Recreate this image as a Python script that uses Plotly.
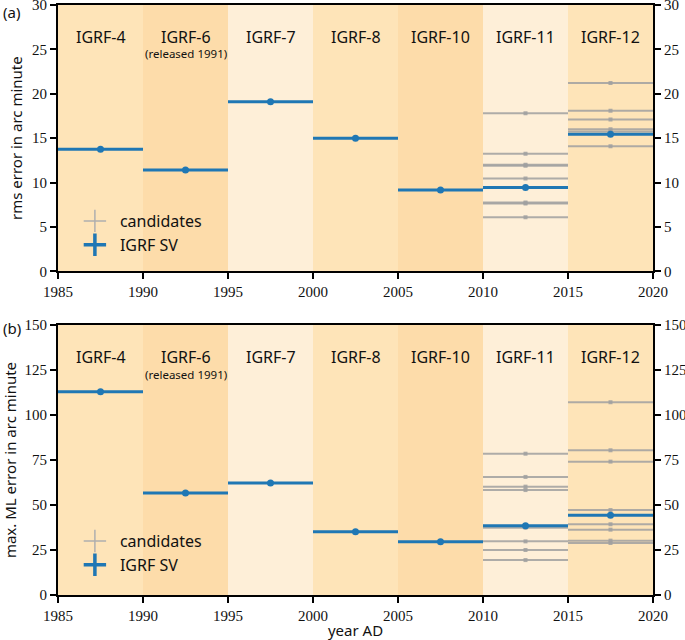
import plotly.graph_objects as go

# ---------------- data ----------------
models = ["IGRF-4", "IGRF-6", "IGRF-7", "IGRF-8", "IGRF-10", "IGRF-11", "IGRF-12"]
epoch_start = [1985, 1990, 1995, 2000, 2005, 2010, 2015]
epoch_end = [1990, 1995, 2000, 2005, 2010, 2015, 2020]
band_shade = ["#fee4b8", "#fddcaa", "#feefd8", "#fee4b8", "#fddcaa", "#feefd8", "#fee4b8"]

rms_igrf = [13.75, 11.4, 19.1, 15.0, 9.15, 9.45, 15.45]
rms_cand_2010 = [17.8, 13.25, 11.9, 12.0, 10.45, 7.65, 7.75, 6.1]
rms_cand_2015 = [21.2, 18.1, 17.1, 16.0, 15.75, 14.1]

ml_igrf = [112.9, 56.7, 62.2, 35.2, 29.6, 38.5, 44.3]
ml_cand_2010 = [78.5, 65.6, 60.2, 58.3, 37.4, 29.8, 25.0, 19.4]
ml_cand_2015 = [107.1, 80.4, 74.1, 47.2, 39.3, 36.3, 30.2, 28.9]

x_ticks = [1985, 1990, 1995, 2000, 2005, 2010, 2015, 2020]
rms_ticks = [0, 5, 10, 15, 20, 25, 30]
ml_ticks = [0, 25, 50, 75, 100, 125, 150]

BLUE = "#1f77b4"
GREY = "rgba(160,160,160,0.85)"
SANS = "Noto Sans"
SERIF = "Liberation Serif, DejaVu Serif, serif"

mid = [(a + b) / 2 for a, b in zip(epoch_start, epoch_end)]
half = [(b - a) / 2 for a, b in zip(epoch_start, epoch_end)]

fig = go.Figure()

panels = [
    dict(x="x", y="y", igrf=rms_igrf, c10=rms_cand_2010, c15=rms_cand_2015, legend="legend"),
    dict(x="x2", y="y2", igrf=ml_igrf, c10=ml_cand_2010, c15=ml_cand_2015, legend="legend2"),
]

for p in panels:
    for idx, cands in ((5, p["c10"]), (6, p["c15"])):
        fig.add_trace(go.Scatter(
            x=[mid[idx]] * len(cands), y=cands, mode="markers",
            xaxis=p["x"], yaxis=p["y"], showlegend=False,
            marker=dict(symbol="square", size=4, color=GREY),
            error_x=dict(type="constant", value=half[idx], width=0, thickness=2, color=GREY),
            hoverinfo="skip"))
    fig.add_trace(go.Scatter(
        x=mid, y=p["igrf"], mode="markers", xaxis=p["x"], yaxis=p["y"], showlegend=False,
        marker=dict(symbol="circle", size=7, color=BLUE),
        error_x=dict(type="data", array=half, width=0, thickness=3, color=BLUE)))
    # legend entries
    fig.add_trace(go.Scatter(
        x=[None], y=[None], mode="markers", name="candidates", legend=p["legend"],
        xaxis=p["x"], yaxis=p["y"],
        marker=dict(symbol="cross-thin", size=18, line=dict(width=1.5, color="rgb(175,175,175)"))))
    fig.add_trace(go.Scatter(
        x=[None], y=[None], mode="markers", name="IGRF SV", legend=p["legend"],
        xaxis=p["x"], yaxis=p["y"],
        marker=dict(symbol="cross-thin", size=18, line=dict(width=3.5, color=BLUE))))

shapes = []
annotations = []
for ax_x, ax_y in (("x", "y"), ("x2", "y2")):
    for s, e, c in zip(epoch_start, epoch_end, band_shade):
        shapes.append(dict(type="rect", xref=ax_x, yref=ax_y + " domain", x0=s, x1=e, y0=0, y1=1,
                           fillcolor=c, line=dict(width=0), layer="below"))
    for m, name in zip(mid, models):
        annotations.append(dict(xref=ax_x, yref=ax_y + " domain", x=m, y=0.928, text=name,
                                showarrow=False, font=dict(family=SANS, size=16, color="#111")))
    annotations.append(dict(xref=ax_x, yref=ax_y + " domain", x=mid[1], y=0.853, text="(released 1991)",
                            showarrow=False, font=dict(family=SANS, size=11.5, color="#111")))

annotations.append(dict(xref="paper", yref="paper", x=-0.096, y=1.0, yshift=5, text="(a)", showarrow=False,
                        xanchor="left", yanchor="top", font=dict(family=SANS, size=15, color="#111")))
annotations.append(dict(xref="paper", yref="paper", x=-0.096, y=0.4576, yshift=-3, text="(b)", showarrow=False,
                        xanchor="left", yanchor="middle", font=dict(family=SANS, size=15, color="#111")))

axis_common = dict(showline=True, linecolor="black", linewidth=2, ticks="outside", ticklen=6,
                   tickwidth=2, tickcolor="black", showgrid=False, zeroline=False, automargin=False,
                   ticklabeloverflow="allow",
                   tickfont=dict(family=SERIF, size=15, color="#111"))
title_font = dict(family=SANS, size=15, color="#111")

fig.update_layout(
    width=685, height=640,
    margin=dict(l=58, r=32, t=5, b=45, autoexpand=False),
    plot_bgcolor="white", paper_bgcolor="white",
    shapes=shapes, annotations=annotations,
    xaxis=dict(domain=[0, 1], anchor="y", range=[1985, 2020], tickvals=x_ticks, mirror=True, **axis_common),
    yaxis=dict(domain=[0.5486, 1], anchor="x", range=[0, 30], tickvals=rms_ticks, mirror=True,
               title=dict(text="rms error in arc minute", font=title_font, standoff=6),
               **axis_common),
    yaxis3=dict(overlaying="y", side="right", anchor="x", range=[0, 30], tickvals=rms_ticks, **axis_common),
    xaxis2=dict(domain=[0, 1], anchor="y2", range=[1985, 2020], tickvals=x_ticks, mirror=True,
                title=dict(text="year AD", font=title_font, standoff=4),
                **axis_common),
    yaxis2=dict(domain=[0, 0.4576], anchor="x2", range=[0, 150], tickvals=ml_ticks, mirror=True,
                title=dict(text="max. ML error in arc minute", font=title_font, standoff=6),
                **axis_common),
    yaxis4=dict(overlaying="y2", side="right", anchor="x2", range=[0, 150], tickvals=ml_ticks, **axis_common),
    legend=dict(x=0.02, y=0.6136, xanchor="left", yanchor="middle", bgcolor="rgba(0,0,0,0)",
                font=dict(family=SANS, size=16, color="#111"), itemwidth=40, tracegroupgap=0),
    legend2=dict(x=0.02, y=0.071, xanchor="left", yanchor="middle", bgcolor="rgba(0,0,0,0)",
                 font=dict(family=SANS, size=16, color="#111"), itemwidth=40, tracegroupgap=0),
)

# dummy traces so right axes render
fig.add_trace(go.Scatter(x=[None], y=[None], xaxis="x", yaxis="y3", showlegend=False))
fig.add_trace(go.Scatter(x=[None], y=[None], xaxis="x2", yaxis="y4", showlegend=False))

fig.write_html("out.html", config={"displayModeBar": False},
               post_script="document.body.style.margin='0';document.body.style.overflow='hidden';")
